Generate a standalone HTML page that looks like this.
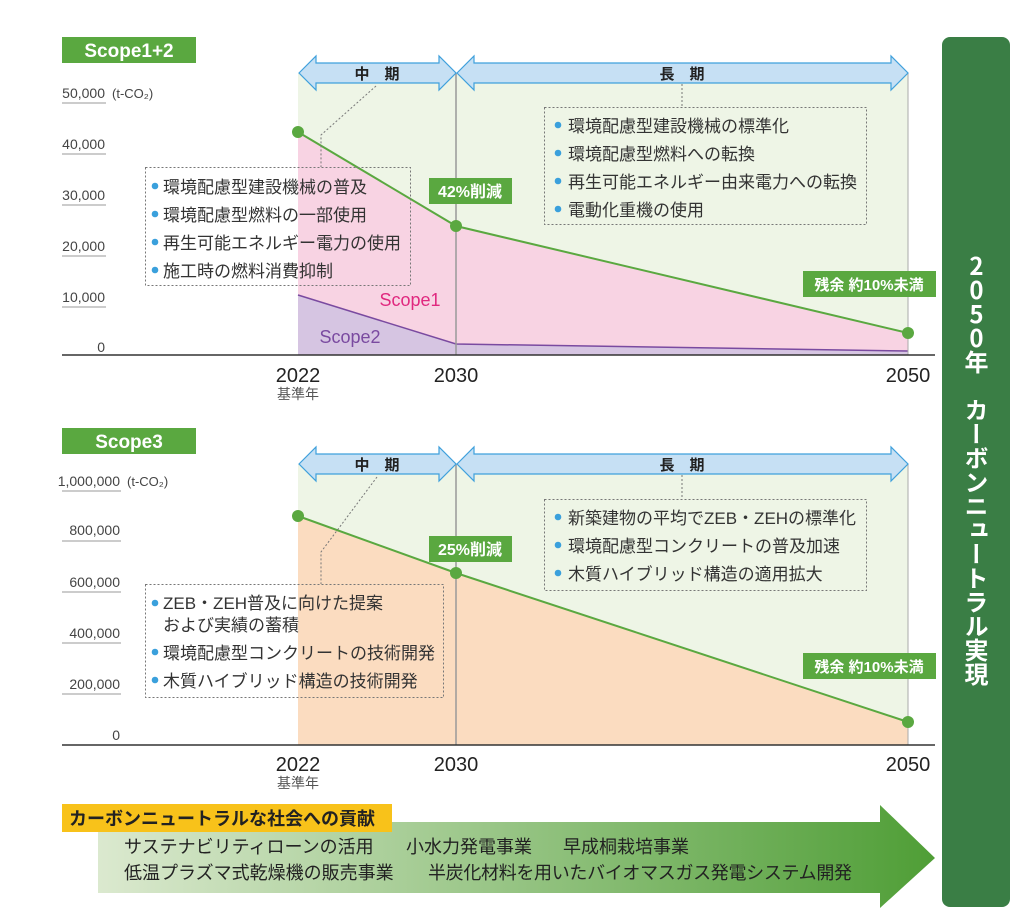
<!DOCTYPE html>
<html><head><meta charset="utf-8"><style>
body{margin:0;background:#fff;}
#w{position:relative;width:1024px;height:918px;overflow:hidden;font-family:"Liberation Sans","Noto Sans CJK JP",sans-serif;}
svg{position:absolute;left:0;top:0;}
svg text{font-family:"Liberation Sans","Noto Sans CJK JP",sans-serif;}
.vt{position:absolute;left:942px;top:37px;width:68px;height:870px;background:#3a7e45;border-radius:8px;}
.vtx{position:absolute;left:962px;top:254px;writing-mode:vertical-rl;text-orientation:upright;color:#fff;font-weight:bold;font-size:24px;line-height:29px;letter-spacing:0px;font-family:"Noto Sans CJK JP",sans-serif;}
</style></head><body><div id="w">
<svg width="1024" height="918" viewBox="0 0 1024 918">
<defs>
<linearGradient id="ga" x1="0" x2="1" y1="0" y2="0">
<stop offset="0" stop-color="#dbe9cf"/><stop offset="1" stop-color="#4f9e36"/></linearGradient>
</defs>
<rect x="62" y="37" width="134" height="26" fill="#5aa840"/>
<text x="129" y="57" font-size="19" fill="#fff" text-anchor="middle" font-weight="bold">Scope1+2</text>
<rect x="298" y="73" width="610" height="282" fill="#eef5e6"/>
<polygon points="298,132 456,226 908,333 908,355 298,355" fill="#f8d3e3"/>
<polygon points="298,295 456,344 908,351 908,355 298,355" fill="#d6c5e2"/>
<polyline points="298,295 456,344 908,351" fill="none" stroke="#7a4aa0" stroke-width="1.5"/>
<line x1="456" y1="73" x2="456" y2="355" stroke="#999" stroke-width="1.5"/>
<line x1="908" y1="73" x2="908" y2="355" stroke="#aaa" stroke-width="1"/>
<polyline points="298,132 456,226 908,333" fill="none" stroke="#5aa840" stroke-width="2"/>
<circle cx="298" cy="132" r="6" fill="#5aa840"/><circle cx="456" cy="226" r="6" fill="#5aa840"/><circle cx="908" cy="333" r="6" fill="#5aa840"/>
<line x1="62" y1="355" x2="935" y2="355" stroke="#333" stroke-width="1.5"/>
<g font-size="14" fill="#444" text-anchor="end">
<text x="105" y="98">50,000</text><text x="105" y="149">40,000</text><text x="105" y="200">30,000</text><text x="105" y="251">20,000</text><text x="105" y="302">10,000</text><text x="105" y="352">0</text>
</g>
<text x="112" y="98" font-size="13" fill="#444">(t-CO₂)</text>
<g stroke="#999" stroke-width="1"><line x1="62" y1="103" x2="106" y2="103"/><line x1="62" y1="154" x2="106" y2="154"/><line x1="62" y1="205" x2="106" y2="205"/><line x1="62" y1="256" x2="106" y2="256"/><line x1="62" y1="307" x2="106" y2="307"/></g>
<polygon points="299,73 316,56 316,63 439,63 439,56 456,73 439,90 439,83 316,83 316,90" fill="#c6e0f4" stroke="#3fa0dc" stroke-width="1.2"/>
<polygon points="457,73 474,56 474,63 891,63 891,56 908,73 891,90 891,83 474,83 474,90" fill="#c6e0f4" stroke="#3fa0dc" stroke-width="1.2"/>
<text x="377" y="79" font-size="15" fill="#222" text-anchor="middle" font-weight="bold">中　期</text>
<text x="682" y="79" font-size="15" fill="#222" text-anchor="middle" font-weight="bold">長　期</text>
<polyline points="376,86 321,135 321,167" fill="none" stroke="#777" stroke-width="1" stroke-dasharray="2,2"/>
<line x1="682" y1="84" x2="682" y2="107" stroke="#777" stroke-width="1" stroke-dasharray="2,2"/>
<rect x="145.5" y="167.5" width="265" height="118" fill="none" stroke="#777" stroke-dasharray="2,2"/>
<g font-size="17" fill="#333">
<text x="163" y="193">環境配慮型建設機械の普及</text><text x="163" y="221">環境配慮型燃料の一部使用</text><text x="163" y="249">再生可能エネルギー電力の使用</text><text x="163" y="277">施工時の燃料消費抑制</text>
</g>
<g fill="#3aa0dc"><circle cx="155" cy="186" r="3.3"/><circle cx="155" cy="214" r="3.3"/><circle cx="155" cy="242" r="3.3"/><circle cx="155" cy="270" r="3.3"/></g>
<rect x="544.5" y="107.5" width="322" height="117" fill="none" stroke="#777" stroke-dasharray="2,2"/>
<g font-size="17" fill="#333">
<text x="568" y="132">環境配慮型建設機械の標準化</text><text x="568" y="160">環境配慮型燃料への転換</text><text x="568" y="188">再生可能エネルギー由来電力への転換</text><text x="568" y="216">電動化重機の使用</text>
</g>
<g fill="#3aa0dc"><circle cx="558" cy="125" r="3.3"/><circle cx="558" cy="153" r="3.3"/><circle cx="558" cy="181" r="3.3"/><circle cx="558" cy="209" r="3.3"/></g>
<rect x="429" y="178" width="83" height="26" fill="#5aa840"/>
<text x="470" y="197" font-size="16" fill="#fff" text-anchor="middle" font-weight="bold">42%削減</text>
<rect x="803" y="271" width="133" height="26" fill="#5aa840"/>
<text x="869" y="290" font-size="15" fill="#fff" text-anchor="middle" font-weight="bold">残余 約10%未満</text>
<text x="410" y="306" font-size="18" fill="#e0287f" text-anchor="middle">Scope1</text>
<text x="350" y="343" font-size="18" fill="#7a4aa0" text-anchor="middle">Scope2</text>
<g font-size="20" fill="#222" text-anchor="middle"><text x="298" y="382">2022</text><text x="456" y="382">2030</text><text x="908" y="382">2050</text></g>
<text x="298" y="399" font-size="14" fill="#555" text-anchor="middle">基準年</text>

<rect x="62" y="428" width="134" height="26" fill="#5aa840"/>
<text x="129" y="448" font-size="19" fill="#fff" text-anchor="middle" font-weight="bold">Scope3</text>
<rect x="298" y="464" width="610" height="281" fill="#eef5e6"/>
<polygon points="298,516 456,573 908,722 908,745 298,745" fill="#fbdcc0"/>
<line x1="456" y1="464" x2="456" y2="745" stroke="#999" stroke-width="1.5"/>
<line x1="908" y1="464" x2="908" y2="745" stroke="#aaa" stroke-width="1"/>
<polyline points="298,516 456,573 908,722" fill="none" stroke="#5aa840" stroke-width="2"/>
<circle cx="298" cy="516" r="6" fill="#5aa840"/><circle cx="456" cy="573" r="6" fill="#5aa840"/><circle cx="908" cy="722" r="6" fill="#5aa840"/>
<line x1="62" y1="745" x2="935" y2="745" stroke="#333" stroke-width="1.5"/>
<g font-size="14" fill="#444" text-anchor="end">
<text x="120" y="486">1,000,000</text><text x="120" y="535">800,000</text><text x="120" y="587">600,000</text><text x="120" y="638">400,000</text><text x="120" y="689">200,000</text><text x="120" y="740">0</text>
</g>
<text x="127" y="486" font-size="13" fill="#444">(t-CO₂)</text>
<g stroke="#999" stroke-width="1"><line x1="62" y1="491" x2="121" y2="491"/><line x1="62" y1="541" x2="121" y2="541"/><line x1="62" y1="592" x2="121" y2="592"/><line x1="62" y1="643" x2="121" y2="643"/><line x1="62" y1="694" x2="121" y2="694"/></g>
<polygon points="299,464 316,447 316,454 439,454 439,447 456,464 439,481 439,474 316,474 316,481" fill="#c6e0f4" stroke="#3fa0dc" stroke-width="1.2"/>
<polygon points="457,464 474,447 474,454 891,454 891,447 908,464 891,481 891,474 474,474 474,481" fill="#c6e0f4" stroke="#3fa0dc" stroke-width="1.2"/>
<text x="377" y="470" font-size="15" fill="#222" text-anchor="middle" font-weight="bold">中　期</text>
<text x="682" y="470" font-size="15" fill="#222" text-anchor="middle" font-weight="bold">長　期</text>
<polyline points="377,477 321,552 321,584" fill="none" stroke="#777" stroke-width="1" stroke-dasharray="2,2"/>
<line x1="682" y1="475" x2="682" y2="499" stroke="#777" stroke-width="1" stroke-dasharray="2,2"/>
<rect x="145.5" y="584.5" width="298" height="113" fill="none" stroke="#777" stroke-dasharray="2,2"/>
<g font-size="17" fill="#333">
<text x="163" y="609">ZEB・ZEH普及に向けた提案</text><text x="163" y="631">および実績の蓄積</text><text x="163" y="659">環境配慮型コンクリートの技術開発</text><text x="163" y="687">木質ハイブリッド構造の技術開発</text>
</g>
<g fill="#3aa0dc"><circle cx="155" cy="603" r="3.3"/><circle cx="155" cy="652" r="3.3"/><circle cx="155" cy="680" r="3.3"/></g>
<rect x="544.5" y="499.5" width="322" height="91" fill="none" stroke="#777" stroke-dasharray="2,2"/>
<g font-size="17" fill="#333">
<text x="568" y="524">新築建物の平均でZEB・ZEHの標準化</text><text x="568" y="552">環境配慮型コンクリートの普及加速</text><text x="568" y="580">木質ハイブリッド構造の適用拡大</text>
</g>
<g fill="#3aa0dc"><circle cx="558" cy="517" r="3.3"/><circle cx="558" cy="545" r="3.3"/><circle cx="558" cy="573" r="3.3"/></g>
<rect x="429" y="536" width="83" height="26" fill="#5aa840"/>
<text x="470" y="555" font-size="16" fill="#fff" text-anchor="middle" font-weight="bold">25%削減</text>
<rect x="803" y="653" width="133" height="26" fill="#5aa840"/>
<text x="869" y="672" font-size="15" fill="#fff" text-anchor="middle" font-weight="bold">残余 約10%未満</text>
<g font-size="20" fill="#222" text-anchor="middle"><text x="298" y="771">2022</text><text x="456" y="771">2030</text><text x="908" y="771">2050</text></g>
<text x="298" y="788" font-size="14" fill="#555" text-anchor="middle">基準年</text>

<polygon points="98,822 880,822 880,805 935,858 880,908 880,893 98,893" fill="url(#ga)"/>
<rect x="62" y="804" width="330" height="28" fill="#f8c21a"/>
<text x="69" y="825" font-size="18" fill="#222" font-weight="bold">カーボンニュートラルな社会への貢献</text>
<g font-size="18" fill="#222">
<text x="124" y="853">サステナビリティローンの活用</text><text x="406" y="853">小水力発電事業</text><text x="563" y="853">早成桐栽培事業</text>
<text x="124" y="879">低温プラズマ式乾燥機の販売事業</text><text x="428" y="879" textLength="424">半炭化材料を用いたバイオマスガス発電システム開発</text>
</g>
</svg>
<div class="vt"></div>
<div class="vtx">2050年 カーボンニュートラル実現</div>
</div></body></html>
